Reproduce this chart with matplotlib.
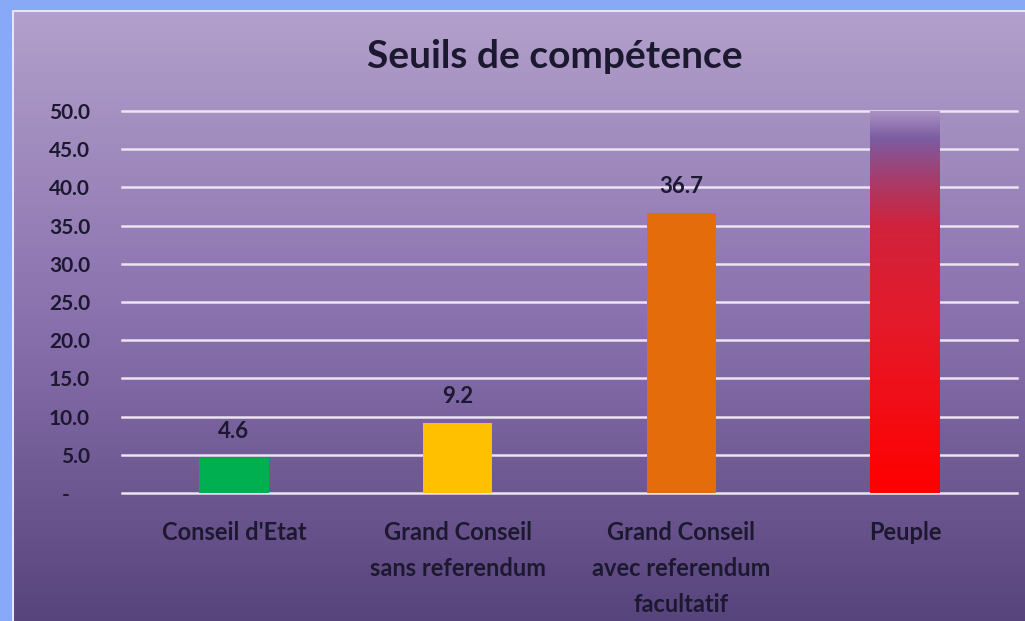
import numpy as np
import matplotlib.pyplot as plt
from matplotlib.colors import LinearSegmentedColormap

# Données
categories = ["Conseil d'Etat", "Grand Conseil\nsans referendum",
              "Grand Conseil\navec referendum\nfacultatif", "Peuple"]
valeurs = [4.6, 9.2, 36.7, 50.0]
etiquettes = ["4.6", "9.2", "36.7", None]
couleurs = ["#00b050", "#ffc000", "#e46c0a", None]
graduations = [0, 5, 10, 15, 20, 25, 30, 35, 40, 45, 50]

texte = "#1c1830"
plt.rcParams['font.family'] = ['Lato', 'DejaVu Sans']
plt.rcParams['font.weight'] = 'bold'

W, H = 1025, 621
fig = plt.figure(figsize=(W / 100, H / 100), dpi=100)
fig.patch.set_facecolor("#88a8f8")

# Fond dégradé violet
fond = fig.add_axes([12 / W, 0, 1 - 12 / W, 1 - 10 / H])
fond.set_axis_off()
cmap_fond = LinearSegmentedColormap.from_list("fond", ["#58447c", "#8a72ae", "#b3a0cb"])
grad = np.linspace(0, 1, 256).reshape(-1, 1)
fond.imshow(grad, cmap=cmap_fond, aspect="auto", origin="lower", extent=[0, 1, 0, 1])
fond.plot([0.001, 0.001, 1], [0, 0.998, 0.998], color="#e8e4f4", linewidth=1.5,
          transform=fond.transAxes)
fond.set_xlim(0, 1)
fond.set_ylim(0, 1)

# Graphique
ax = fig.add_axes([122 / W, 1 - 493 / H, (1017 - 122) / W, (493 - 111) / H])
ax.patch.set_alpha(0)
x = np.arange(len(categories))
largeur = 0.31

for yv in graduations:
    ax.axhline(yv, color="#ece4f2", linewidth=1.8, zorder=1, clip_on=False)

for i, (v, c) in enumerate(zip(valeurs, couleurs)):
    if c is not None:
        ax.bar(x[i], v, width=largeur, color=c, zorder=2)

# Barre "Peuple" en dégradé
i = 3
cmap_rouge = LinearSegmentedColormap.from_list("rouge", [
    (0.0, "#ff0000"), (0.45, "#e41a2a"), (0.7, "#d0223c"),
    (0.83, "#a43e6e"), (0.93, "#7c5ca2"), (1.0, "#a892c2")])
barre = ax.bar(x[i], valeurs[i], width=largeur, color="none", zorder=2)[0]
img = ax.imshow(np.linspace(0, 1, 256).reshape(-1, 1), cmap=cmap_rouge, origin="lower",
                aspect="auto", zorder=2,
                extent=[x[i] - largeur / 2, x[i] + largeur / 2, 0, valeurs[i]])
img.set_clip_path(barre)

for i, lab in enumerate(etiquettes):
    if lab:
        ax.text(x[i], valeurs[i] + 3.4, lab, ha="center", va="center",
                fontsize=16, fontweight="bold", color=texte)

ax.set_xlim(-0.5, 3.5)
ax.set_ylim(0, 50)
ax.set_yticks(graduations)
ax.set_yticklabels(["-    " if g == 0 else f"{g:.1f}" for g in graduations])
ax.set_xticks(x)
ax.set_xticklabels(categories, linespacing=1.7, va="top")
ax.tick_params(axis="y", length=0, pad=23, labelsize=15, labelcolor=texte)
ax.tick_params(axis="x", length=0, pad=20, labelsize=17, labelcolor=texte)
for sp in ax.spines.values():
    sp.set_visible(False)

fig.text(555 / W, 1 - 57 / H, "Seuils de compétence", ha="center", va="center",
         fontsize=28, fontweight="bold", color=texte)

fig.savefig("out.png", dpi=100)
